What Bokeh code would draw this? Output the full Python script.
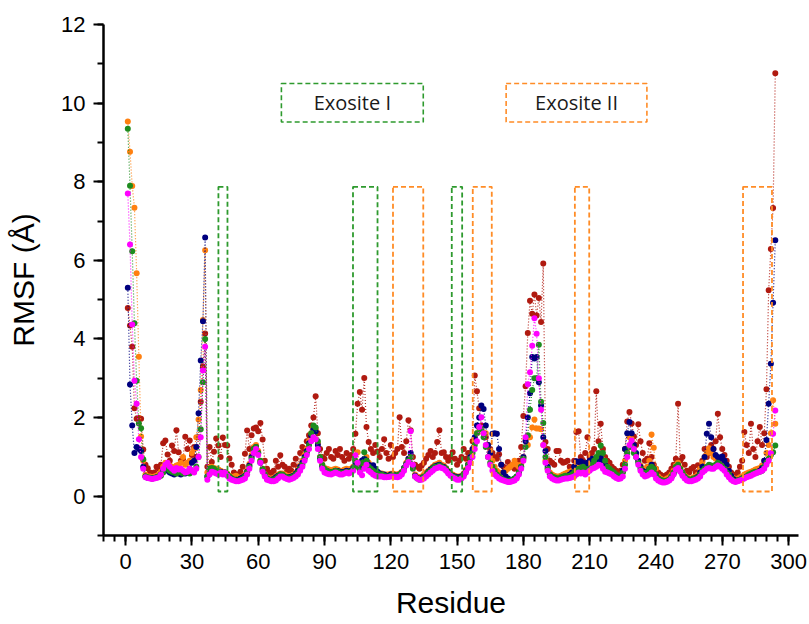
from bokeh.plotting import figure
from bokeh.models import SingleIntervalTicker, Range1d
from bokeh.core.properties import value
from bokeh.embed import file_html
from bokeh.resources import INLINE

residues = list(range(1, 295))

rmsf_red = [
    4.79, 4.34, 3.8, 2.24, 1.97, 1.99, 1.97, 1.19, 0.8, 0.71,
    0.6, 0.55, 0.6, 0.75, 0.7, 0.8, 1.35, 1.42, 1.06, 0.9,
    1.29, 1.15, 1.68, 1.12, 0.9, 0.95, 1.51, 1.2, 1.42, 1.05,
    1.25, 1.0, 1.5, 2.4, 3.3, 4.14, 0.75, 1.25, 0.87, 1.13,
    1.47, 1.29, 1.0, 1.49, 1.3, 1.29, 0.96, 0.8, 0.6, 0.55,
    0.55, 0.62, 0.75, 1.08, 1.67, 1.2, 1.55, 1.72, 1.75, 1.65,
    1.86, 1.44, 0.9, 0.7, 0.6, 0.58, 0.65, 0.9, 0.75, 1.04,
    0.8, 0.75, 0.62, 0.7, 0.65, 0.8, 0.95, 0.75, 1.1, 1.25,
    1.2, 1.4, 1.55, 1.8, 2.0, 2.54, 1.6, 1.2, 1.0, 0.95,
    1.1, 1.2, 1.0, 0.95, 1.15, 1.05, 1.2, 1.0, 0.9, 1.1,
    0.95, 1.05, 1.2, 1.59, 2.35, 2.65, 2.2, 3.01, 1.76, 1.38,
    1.2, 1.1, 1.3, 1.14, 1.0, 1.2, 1.45, 1.1, 0.95, 1.3,
    1.0, 1.1, 1.2, 2.01, 1.25, 1.1, 1.4, 1.93, 1.68, 1.0,
    0.8, 0.75, 0.7, 0.78, 0.85, 0.95, 1.05, 1.15, 1.0, 1.1,
    1.38, 1.68, 1.1, 1.12, 1.0, 0.9, 1.0, 1.12, 0.95, 0.8,
    0.9, 1.0, 1.2, 0.95, 1.1, 1.1, 1.4, 3.07, 2.67, 2.24,
    1.8, 1.6, 1.5, 1.3, 1.2, 1.1, 1.0, 0.95, 1.07, 0.8,
    0.75, 0.7, 0.87, 0.75, 0.8, 0.7, 0.75, 0.9, 1.25, 2.04,
    2.8, 4.15, 4.97, 4.64, 5.13, 4.6, 5.04, 4.43, 5.92, 1.38,
    1.2, 0.9, 0.85, 0.8, 1.15, 1.15, 0.9, 0.85, 0.87, 0.9,
    0.75, 0.7, 0.9, 1.63, 1.65, 1.0, 0.9, 1.1, 1.5, 1.0,
    1.1, 1.2, 2.67, 1.4, 1.84, 1.2, 1.0, 0.9, 0.85, 0.75,
    0.7, 0.65, 0.6, 0.65, 0.8, 1.2, 1.9, 2.14, 1.85, 1.52,
    1.3, 1.83, 1.4, 1.1, 0.9, 0.95, 1.35, 1.0, 0.8, 0.7,
    0.6, 0.55, 0.5, 0.52, 0.55, 0.6, 0.7, 0.8, 0.95, 2.35,
    0.9, 1.0, 0.8, 0.65, 0.6, 0.7, 0.74, 0.6, 0.79, 0.7,
    0.9, 1.2, 1.0, 1.1, 1.3, 1.2, 1.4, 2.1, 1.5, 1.2,
    1.05, 0.9, 0.75, 0.6, 0.55, 0.5, 0.6, 0.75, 0.9, 1.63,
    1.3, 1.1, 1.84, 1.2, 1.0, 1.4, 1.76, 1.3, 1.6, 2.72,
    5.24, 6.29, 7.33, 10.76,
]

rmsf_orange = [
    9.53, 8.76, 7.89, 7.34, 5.67, 3.55, 1.52, 0.9, 0.55, 0.5,
    0.5, 0.48, 0.5, 0.52, 0.55, 0.62, 0.75, 0.85, 0.8, 0.78,
    0.75, 0.72, 0.78, 0.8, 0.85, 1.0, 0.8, 0.85, 0.9, 1.1,
    1.2, 1.5, 1.95, 2.7, 4.48, 6.26, 0.6, 0.73, 0.75, 0.72,
    0.7, 0.68, 0.65, 0.62, 0.6, 0.58, 0.52, 0.48, 0.5, 0.52,
    0.48, 0.47, 0.5, 0.55, 0.65, 0.82, 1.05, 1.25, 1.3, 1.15,
    0.9, 0.7, 0.55, 0.48, 0.45, 0.45, 0.47, 0.5, 0.55, 0.58,
    0.58, 0.55, 0.52, 0.5, 0.52, 0.55, 0.6, 0.68, 0.78, 0.9,
    1.05, 1.2, 1.4, 1.6, 1.75, 1.7, 1.35, 1.0, 0.8, 0.72,
    0.7, 0.68, 0.65, 0.68, 0.7, 0.68, 0.65, 0.65, 0.68, 0.7,
    0.68, 0.7, 0.75, 0.9, 1.12, 0.8, 0.75, 0.9, 1.0, 0.85,
    0.78, 0.72, 0.65, 0.6, 0.58, 0.58, 0.55, 0.55, 0.55, 0.57,
    0.58, 0.56, 0.55, 0.58, 0.62, 0.72, 0.85, 0.95, 1.0, 0.78,
    0.55, 0.5, 0.48, 0.5, 0.55, 0.6, 0.65, 0.7, 0.75, 0.8,
    0.82, 0.85, 0.8, 0.78, 0.72, 0.65, 0.58, 0.55, 0.52, 0.5,
    0.5, 0.52, 0.58, 0.68, 0.82, 1.0, 1.2, 1.4, 1.6, 1.75,
    1.7, 1.6, 1.6, 1.3, 1.12, 0.9, 0.75, 0.65, 0.6, 0.58,
    0.6, 0.65, 0.7, 0.75, 0.8, 0.9, 0.8, 0.75, 0.8, 1.0,
    1.44, 1.3, 1.5, 1.75, 1.95, 1.72, 1.72, 1.7, 1.3, 0.9,
    0.7, 0.6, 0.55, 0.52, 0.5, 0.5, 0.52, 0.55, 0.58, 0.6,
    0.62, 0.65, 0.68, 0.72, 0.75, 0.7, 0.72, 0.7, 0.68, 0.72,
    0.78, 0.85, 0.9, 0.95, 1.0, 0.92, 0.85, 0.75, 0.68, 0.62,
    0.58, 0.52, 0.5, 0.52, 0.62, 0.9, 1.2, 1.5, 1.45, 1.2,
    1.05, 0.9, 0.78, 0.7, 0.68, 0.75, 0.9, 1.57, 1.23, 0.7,
    0.5, 0.45, 0.42, 0.42, 0.45, 0.48, 0.55, 0.65, 0.78, 0.85,
    0.72, 0.6, 0.52, 0.48, 0.45, 0.45, 0.48, 0.5, 0.55, 0.7,
    0.85, 1.0, 1.1, 1.22, 1.1, 1.0, 0.95, 0.92, 0.88, 0.85,
    0.8, 0.7, 0.6, 0.52, 0.46, 0.44, 0.45, 0.48, 0.5, 0.55,
    0.58, 0.6, 0.62, 0.65, 0.68, 0.7, 0.72, 0.78, 0.9, 1.1,
    1.3, 1.6, 2.44, 1.84,
]

rmsf_navy = [
    5.3, 2.84, 1.8, 1.1, 1.25, 1.2, 1.15, 0.75, 0.5, 0.47,
    0.46, 0.45, 0.46, 0.48, 0.5, 0.55, 0.65, 0.7, 0.65, 0.6,
    0.58, 0.55, 0.6, 0.58, 0.55, 0.6, 0.58, 0.62, 0.7, 0.85,
    0.9, 1.25, 2.11, 3.45, 4.45, 6.58, 0.5, 0.7, 0.68, 0.65,
    0.62, 0.6, 0.62, 0.58, 0.6, 0.55, 0.48, 0.45, 0.42, 0.42,
    0.42, 0.45, 0.48, 0.52, 0.62, 0.78, 1.0, 1.2, 1.25, 1.1,
    0.85, 0.65, 0.52, 0.45, 0.42, 0.42, 0.44, 0.48, 0.52, 0.55,
    0.52, 0.5, 0.48, 0.48, 0.5, 0.52, 0.58, 0.65, 0.75, 0.85,
    1.0, 1.15, 1.35, 1.55, 1.7, 1.65, 1.3, 0.95, 0.75, 0.68,
    0.65, 0.62, 0.6, 0.62, 0.65, 0.64, 0.62, 0.6, 0.62, 0.65,
    0.62, 0.65, 0.72, 0.85, 0.8, 0.7, 0.91, 0.95, 0.91, 0.8,
    0.75, 0.79, 0.7, 0.62, 0.58, 0.55, 0.55, 0.52, 0.52, 0.55,
    0.55, 0.53, 0.52, 0.55, 0.6, 0.72, 0.82, 0.95, 1.1, 0.75,
    0.52, 0.46, 0.44, 0.46, 0.5, 0.56, 0.62, 0.68, 0.72, 0.76,
    0.78, 0.8, 0.76, 0.74, 0.7, 0.62, 0.56, 0.52, 0.5, 0.48,
    0.48, 0.5, 0.56, 0.65, 0.8, 1.0, 1.2, 1.5, 1.8, 2.0,
    2.31, 2.22, 1.8, 1.3, 1.1, 1.59, 1.6, 1.59, 1.2, 0.8,
    0.6, 0.5, 0.45, 0.42, 0.42, 0.45, 0.5, 0.6, 0.75, 1.0,
    1.4, 2.0, 2.62, 3.54, 3.5, 3.54, 2.9, 2.31, 1.5, 1.15,
    0.75, 0.55, 0.48, 0.45, 0.45, 0.44, 0.45, 0.48, 0.5, 0.52,
    0.55, 0.6, 0.75, 0.89, 0.87, 0.89, 0.85, 0.8, 0.85, 0.9,
    0.95, 0.92, 0.9, 0.92, 1.0, 0.9, 0.8, 0.7, 0.62, 0.58,
    0.52, 0.48, 0.46, 0.5, 0.65, 1.2, 1.6, 1.89, 1.6, 1.3,
    1.1, 0.9, 0.75, 0.65, 0.6, 0.62, 0.7, 0.8, 0.7, 0.55,
    0.45, 0.4, 0.38, 0.37, 0.38, 0.42, 0.48, 0.58, 0.7, 0.75,
    0.65, 0.55, 0.48, 0.44, 0.42, 0.42, 0.44, 0.46, 0.5, 0.6,
    0.75, 1.0, 1.59, 1.84, 1.5, 1.2, 1.05, 1.0, 0.95, 1.01,
    0.9, 0.8, 0.65, 0.52, 0.44, 0.4, 0.4, 0.42, 0.45, 0.48,
    0.5, 0.52, 0.55, 0.58, 0.6, 0.62, 0.65, 0.72, 0.9, 1.43,
    2.35, 3.37, 4.92, 6.51,
]

rmsf_green = [
    9.35, 7.9, 6.23, 4.4, 2.94, 1.85, 1.73, 0.94, 0.5, 0.48,
    0.47, 0.45, 0.46, 0.48, 0.5, 0.52, 0.6, 0.72, 0.7, 0.65,
    0.62, 0.6, 0.58, 0.62, 0.6, 0.58, 0.62, 0.6, 0.58, 0.62,
    0.62, 0.75, 1.0, 1.7, 2.9, 4.0, 0.5, 0.7, 0.72, 0.7,
    0.65, 0.62, 0.6, 0.58, 0.6, 0.55, 0.5, 0.45, 0.42, 0.4,
    0.4, 0.42, 0.45, 0.5, 0.6, 0.75, 0.95, 1.2, 1.25, 1.1,
    0.9, 0.7, 0.55, 0.45, 0.42, 0.4, 0.42, 0.45, 0.5, 0.55,
    0.55, 0.5, 0.48, 0.45, 0.48, 0.5, 0.55, 0.6, 0.7, 0.8,
    0.95, 1.1, 1.3, 1.6, 1.8, 1.75, 1.4, 1.0, 0.8, 0.7,
    0.65, 0.62, 0.6, 0.62, 0.65, 0.62, 0.6, 0.58, 0.6, 0.62,
    0.6, 0.62, 0.7, 0.9, 0.75, 0.65, 0.85, 1.12, 0.9, 0.75,
    0.7, 0.65, 0.6, 0.58, 0.55, 0.55, 0.52, 0.5, 0.5, 0.52,
    0.55, 0.52, 0.5, 0.55, 0.6, 0.7, 0.8, 0.9, 1.0, 0.7,
    0.5, 0.45, 0.42, 0.45, 0.5, 0.55, 0.6, 0.65, 0.7, 0.75,
    0.75, 0.78, 0.75, 0.72, 0.7, 0.6, 0.55, 0.5, 0.48, 0.45,
    0.45, 0.48, 0.55, 0.65, 0.8, 0.95, 1.1, 1.3, 1.6, 1.75,
    1.7, 1.5, 1.25, 1.0, 0.85, 0.75, 0.65, 0.55, 0.5, 0.45,
    0.42, 0.4, 0.38, 0.4, 0.42, 0.45, 0.5, 0.6, 0.75, 0.95,
    1.25, 1.55, 2.2, 2.7, 3.0, 3.0, 3.85, 2.4, 1.86, 1.0,
    0.7, 0.55, 0.5, 0.48, 0.45, 0.45, 0.48, 0.5, 0.52, 0.5,
    0.52, 0.55, 0.6, 0.65, 0.7, 0.72, 0.75, 0.7, 0.65, 0.7,
    0.8, 0.9, 1.0, 1.1, 1.29, 1.1, 0.9, 0.75, 0.7, 0.65,
    0.6, 0.55, 0.5, 0.52, 0.6, 0.8, 1.1, 1.25, 1.25, 1.1,
    1.0, 0.85, 0.7, 0.6, 0.55, 0.6, 0.7, 0.75, 0.7, 0.55,
    0.45, 0.42, 0.4, 0.38, 0.4, 0.42, 0.5, 0.6, 0.75, 0.8,
    0.7, 0.6, 0.5, 0.45, 0.42, 0.42, 0.45, 0.45, 0.48, 0.55,
    0.65, 0.7, 0.75, 0.8, 0.78, 0.75, 0.8, 0.85, 0.8, 0.75,
    0.7, 0.6, 0.55, 0.45, 0.4, 0.38, 0.4, 0.42, 0.45, 0.48,
    0.5, 0.55, 0.58, 0.6, 0.62, 0.6, 0.62, 0.65, 0.75, 0.85,
    0.95, 1.05, 1.12, 1.29,
]

rmsf_magenta = [
    7.7, 6.4, 4.37, 2.94, 2.35, 1.45, 1.0, 0.7, 0.48, 0.46,
    0.45, 0.44, 0.45, 0.46, 0.48, 0.55, 0.7, 0.8, 0.85, 0.75,
    0.7, 0.65, 0.72, 0.68, 0.7, 0.65, 0.6, 0.62, 0.7, 0.65,
    0.6, 0.7, 1.0, 1.5, 3.2, 3.8, 0.42, 0.55, 0.62, 0.6,
    0.58, 0.55, 0.6, 0.55, 0.6, 0.52, 0.45, 0.42, 0.4, 0.38,
    0.38, 0.4, 0.42, 0.45, 0.55, 0.7, 0.9, 1.1, 1.2, 1.05,
    0.85, 0.62, 0.5, 0.42, 0.4, 0.38, 0.38, 0.4, 0.45, 0.5,
    0.5, 0.46, 0.44, 0.42, 0.44, 0.46, 0.5, 0.55, 0.65, 0.75,
    0.9, 1.05, 1.2, 1.4, 1.5, 1.45, 1.2, 0.9, 0.7, 0.6,
    0.58, 0.56, 0.55, 0.58, 0.6, 0.58, 0.55, 0.55, 0.58, 0.6,
    0.58, 0.6, 0.65, 1.04, 0.85, 0.6, 0.53, 0.7, 0.8, 0.65,
    0.6, 0.55, 0.52, 0.5, 0.5, 0.5, 0.48, 0.48, 0.49, 0.5,
    0.5, 0.49, 0.48, 0.5, 0.55, 0.65, 0.78, 0.87, 1.65, 0.8,
    0.5, 0.45, 0.42, 0.42, 0.45, 0.5, 0.55, 0.6, 0.65, 0.7,
    0.72, 0.74, 0.72, 0.7, 0.65, 0.58, 0.52, 0.48, 0.45, 0.42,
    0.42, 0.45, 0.5, 0.6, 0.72, 0.85, 1.0, 1.2, 1.4, 1.76,
    2.01, 1.6, 1.3, 1.0, 0.8, 0.65, 0.55, 0.5, 0.45, 0.42,
    0.4, 0.38, 0.36, 0.36, 0.38, 0.4, 0.45, 0.55, 0.7, 0.9,
    1.5, 2.85, 3.15, 3.83, 4.53, 4.13, 3.0, 2.2, 1.3, 0.85,
    0.65, 0.5, 0.45, 0.42, 0.4, 0.4, 0.42, 0.44, 0.45, 0.45,
    0.46, 0.48, 0.5, 0.55, 0.6, 0.58, 0.6, 0.55, 0.6, 0.65,
    0.7, 0.72, 0.75, 0.8, 0.78, 0.7, 0.62, 0.6, 0.58, 0.55,
    0.5, 0.46, 0.44, 0.45, 0.5, 0.7, 1.0, 1.3, 1.42, 1.2,
    1.0, 0.8, 0.65, 0.55, 0.5, 0.52, 0.55, 0.6, 0.55, 0.45,
    0.4, 0.37, 0.35, 0.35, 0.37, 0.4, 0.45, 0.55, 0.68, 0.72,
    0.62, 0.52, 0.45, 0.4, 0.38, 0.38, 0.4, 0.42, 0.45, 0.5,
    0.6, 0.65, 0.7, 0.72, 0.7, 0.7, 0.74, 0.78, 0.75, 0.7,
    0.65, 0.55, 0.48, 0.42, 0.38, 0.36, 0.38, 0.4, 0.42, 0.45,
    0.48, 0.5, 0.52, 0.55, 0.58, 0.6, 0.62, 0.65, 0.7, 0.8,
    0.9, 1.1, 1.59, 2.18,
]

series_colors = ["#b01a10", "#ff8010", "#00007f", "#1e8c1e", "#ff00ff"]

# dashed region boxes (residue start, residue end), RMSF bottom/top
exo1_regions = [(42.0, 46.1), (102.9, 114.0), (147.6, 152.3)]
exo2_regions = [(121.0, 134.7), (157.1, 165.7), (203.3, 209.8), (279.4, 292.5)]
region_bottom = 0.12
region_top = 7.87

label_texts = ["Exosite I", "Exosite II"]
label_left = [70.5, 172.2]
label_right = [134.7, 235.9]
label_bottom = 9.52
label_top = 10.5

green_box = "#2e9a2e"
orange_box = "#ff8c26"

p = figure(width=809, height=624, output_backend="svg", toolbar_location=None,
           x_range=Range1d(-10, 304.5), y_range=Range1d(-1, 12),
           min_border_left=103, min_border_right=11, min_border_top=24, min_border_bottom=89)
p.background_fill_color = "white"
p.border_fill_color = "white"
p.outline_line_color = None
p.grid.grid_line_color = None

series = [rmsf_red, rmsf_orange, rmsf_navy, rmsf_green, rmsf_magenta]
for vals, col in zip(series, series_colors):
    p.line(residues, vals, line_color=col, line_width=1.2, line_dash="1 2", line_alpha=0.9)
    p.scatter(residues, vals, size=6, fill_color=col, line_color=None)

for (l, r) in exo1_regions:
    p.quad(left=[l], right=[r], bottom=[region_bottom], top=[region_top],
           fill_color=None, line_color=green_box, line_width=1.8, line_dash="5 3")
for (l, r) in exo2_regions:
    p.quad(left=[l], right=[r], bottom=[region_bottom], top=[region_top],
           fill_color=None, line_color=orange_box, line_width=1.8, line_dash="5 3")

p.quad(left=label_left, right=label_right, bottom=[label_bottom] * 2, top=[label_top] * 2,
       fill_color=None, line_color=[green_box, orange_box], line_width=1.6, line_dash="5 3")
p.text(x=[(a + b) / 2 for a, b in zip(label_left, label_right)],
       y=[(label_bottom + label_top) / 2] * 2, text=label_texts,
       text_align="center", text_baseline="middle", text_color="#1a1a1a",
       text_font=value("Open Sans"), text_font_size="20px")

p.xaxis.ticker = SingleIntervalTicker(interval=30, num_minor_ticks=6)
p.yaxis.ticker = SingleIntervalTicker(interval=2, num_minor_ticks=2)
for ax in (p.xaxis[0], p.yaxis[0]):
    ax.axis_line_width = 2.5
    ax.axis_line_color = "black"
    ax.major_tick_line_width = 2
    ax.minor_tick_line_width = 2
    ax.major_tick_line_color = "black"
    ax.minor_tick_line_color = "black"
    ax.major_tick_in = 0
    ax.major_tick_out = 10
    ax.minor_tick_in = 0
    ax.minor_tick_out = 6
    ax.major_label_text_font = "Liberation Sans"
    ax.major_label_text_font_size = "22px"
    ax.major_label_text_color = "black"
    ax.axis_label_text_font = "Liberation Sans"
    ax.axis_label_text_font_size = "30px"
    ax.axis_label_text_font_style = "normal"
    ax.axis_label_text_color = "black"
p.xaxis.axis_label = "Residue"
p.yaxis.axis_label = "RMSF (Å)"
p.xaxis.major_label_standoff = 8
p.yaxis.major_label_standoff = 8
p.xaxis.axis_label_standoff = 14
p.yaxis.axis_label_standoff = 18

open("out.html", "w").write(file_html(p, INLINE))
